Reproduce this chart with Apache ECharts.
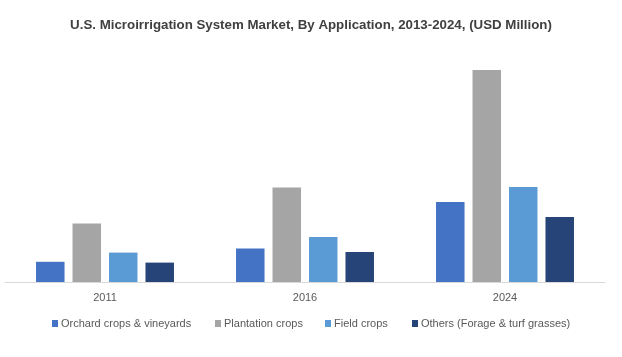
<!DOCTYPE html>
<html>
<head>
<meta charset="utf-8">
<script src="https://cdn.jsdelivr.net/npm/echarts@6/dist/echarts.min.js"></script>
<style>
html,body{margin:0;padding:0;background:#fff;}
#chart{width:622px;height:357px;}
</style>
</head>
<body>
<div id="chart"></div>
<script>
const categories = ['2011', '2016', '2024'];
const orchard = [101, 167, 400];
const plantation = [292, 472, 1060];
const field = [147, 225, 475];
const others = [97, 150, 325];
const seriesNames = ['Orchard crops & vineyards', 'Plantation crops', 'Field crops', 'Others (Forage & turf grasses)'];
const colors = ['#4472C4', '#A5A5A5', '#5B9BD5', '#264478'];
const seriesData = [orchard, plantation, field, others];
const legendLeft = [52, 215, 325, 412];

const chart = echarts.init(document.getElementById('chart'));
const textFont = 'Liberation Sans, Arial, sans-serif';
chart.setOption({
  animation: false,
  title: {
    text: 'U.S. Microirrigation System Market, By Application, 2013-2024, (USD Million)',
    left: 'center',
    top: 14,
    textStyle: { fontFamily: 'Liberation Sans, Arial, sans-serif', fontWeight: 'bold', fontSize: 13.3, color: '#404040' }
  },
  legend: seriesNames.map((n, i) => ({
    data: [n],
    left: legendLeft[i],
    top: 318,
    padding: 0,
    itemWidth: 6,
    itemHeight: 7,
    icon: 'rect',
    textStyle: { fontFamily: textFont, fontSize: 11, color: '#595959', padding: [0, 0, 0, -2] }
  })),
  grid: { left: 5, right: 17, top: 42, bottom: 75, containLabel: false },
  xAxis: {
    type: 'category',
    data: categories,
    axisLine: { lineStyle: { color: '#D9D9D9', width: 1 } },
    axisTick: { show: false },
    axisLabel: { fontFamily: textFont, fontSize: 11, color: '#595959', margin: 10 }
  },
  yAxis: {
    type: 'value',
    min: 0,
    max: 1200,
    show: false,
    splitLine: { show: false }
  },
  series: seriesNames.map((n, i) => ({
    name: n,
    type: 'bar',
    data: seriesData[i],
    barWidth: 28.5,
    barGap: '28%',
    itemStyle: { color: colors[i] }
  }))
});
</script>
</body>
</html>
